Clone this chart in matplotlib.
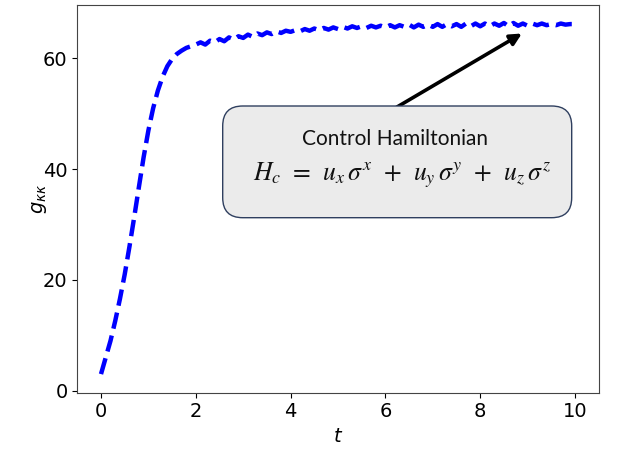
import matplotlib
matplotlib.use("Agg")
import matplotlib.pyplot as plt
from matplotlib.patches import FancyBboxPatch
from matplotlib.transforms import IdentityTransform

# data
t_values = [round(0.1 * i, 1) for i in range(101)]
g_values = [
    3.0, 6.0, 9.0, 12.6, 16.6, 21.0, 26.0, 31.3, 36.8, 42.2,
    47.0, 51.0, 54.2, 56.7, 58.6, 59.9, 60.8, 61.4, 61.9, 62.2,
    62.5,
    62.9, 62.5, 63.2, 62.9, 63.5, 63.1, 63.8, 63.4, 64.0, 63.7,
    64.3, 63.9, 64.5, 64.2, 64.7, 64.4, 64.9, 64.6, 65.0, 64.8,
    65.1, 64.9, 65.3, 65.0, 65.4, 65.1, 65.5, 65.2, 65.6, 65.3,
    65.7, 65.4, 65.8, 65.5, 65.8, 65.5, 65.9, 65.6, 65.9, 65.6,
    66.0, 65.6, 66.0, 65.7, 66.1, 65.6, 66.1, 65.7, 66.1, 65.7,
    66.2, 65.7, 66.2, 65.8, 66.2, 65.7, 66.3, 65.8, 66.3, 65.8,
    66.3, 65.8, 66.3, 65.9, 66.4, 65.8, 66.4, 65.9, 66.3, 65.9,
    66.3, 66.0, 66.3, 66.0, 66.2, 66.0, 66.3, 66.1, 66.2, 66.2,
]
x_ticks = [0, 2, 4, 6, 8, 10]
y_ticks = [0, 20, 40, 60]
box_title = "Control Hamiltonian"
box_formula = (r"$H_c\;\,=\;\,u_x\,\sigma^x\;\,+\;\,u_y\,\sigma^y"
               r"\;\,+\;\,u_z\,\sigma^z$")

W, H = 623, 451
fig = plt.figure(figsize=(W / 100, H / 100), dpi=100)
ax = fig.add_axes([77.3 / W, 1 - 392.7 / H, (598.7 - 77.3) / W, (392.7 - 4.7) / H])

ax.plot(t_values, g_values, color="blue", linestyle="--", linewidth=3.2)
ax.set_xlim(-0.5, 10.5)
ax.set_ylim(-0.36, 69.7)
ax.set_xticks(x_ticks)
ax.set_yticks(y_ticks)
ax.tick_params(labelsize=14)
ax.set_xlabel(r"$t$", fontsize=14)
ax.set_ylabel(r"$g_{\kappa\kappa}$", fontsize=14, labelpad=-4)
for s in ax.spines.values():
    s.set_color("#444444")

# arrow
ax.annotate("", xy=(8.88, 64.5), xytext=(6.24, 51.2),
            arrowprops=dict(arrowstyle="-|>", lw=2.6, color="black",
                            mutation_scale=17, shrinkA=0, shrinkB=0),
            zorder=1)

# box in pixel coordinates
box = FancyBboxPatch((222.7, H - 217.7), 349.0, 111.7,
                     boxstyle="round,pad=0,rounding_size=20",
                     facecolor="#ebebeb", edgecolor="#2f3f5f", linewidth=1.0,
                     transform=IdentityTransform(), zorder=3)
fig.add_artist(box)

fig.text(395 / W, 1 - 138.8 / H, box_title, fontsize=15, family=["Lato", "DejaVu Sans"],
         ha="center", va="center", color="#111111", zorder=4)
fig.text(402.5 / W, 1 - 180.7 / H, box_formula, fontsize=18.5, math_fontfamily="stix",
         ha="center", va="baseline", color="#111111", zorder=4)

fig.savefig("out.png", dpi=100)
